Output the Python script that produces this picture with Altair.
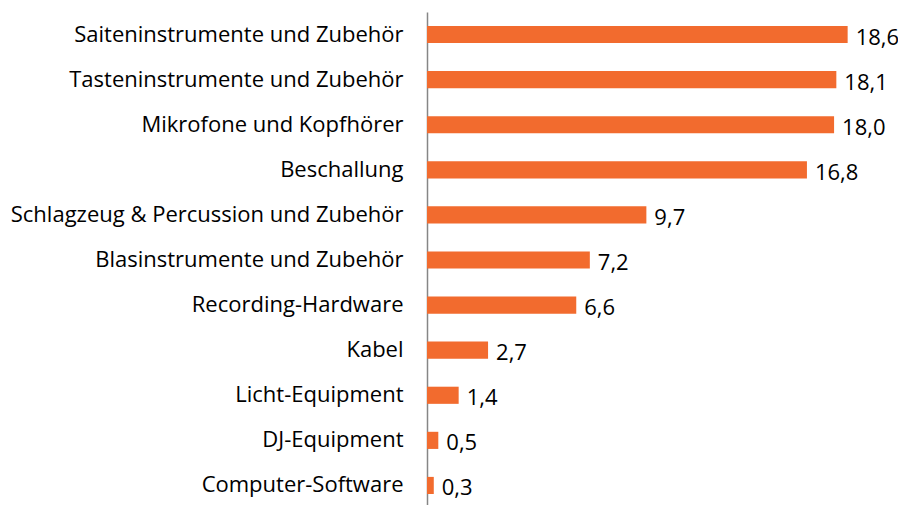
import altair as alt
import pandas as pd

categories = [
    "Saiteninstrumente und Zubehör",
    "Tasteninstrumente und Zubehör",
    "Mikrofone und Kopfhörer",
    "Beschallung",
    "Schlagzeug & Percussion und Zubehör",
    "Blasinstrumente und Zubehör",
    "Recording-Hardware",
    "Kabel",
    "Licht-Equipment",
    "DJ-Equipment",
    "Computer-Software",
]
values = [18.6, 18.1, 18.0, 16.8, 9.7, 7.2, 6.6, 2.7, 1.4, 0.5, 0.3]
value_labels = ["18,6", "18,1", "18,0", "16,8", "9,7", "7,2", "6,6", "2,7", "1,4", "0,5", "0,3"]

df = pd.DataFrame({"cat": categories, "val": values, "lbl": value_labels})

FONT = "Open Sans"

y = alt.Y(
    "cat:N",
    sort=categories,
    title=None,
    scale=alt.Scale(paddingInner=0.62, paddingOuter=0.31),
    axis=alt.Axis(
        labelFont=FONT,
        labelFontSize=22,
        labelColor="#000000",
        labelPadding=24,
        ticks=False,
        domainColor="#868686",
        domainWidth=1.5,
        labelLimit=500,
    ),
)
x = alt.X(
    "val:Q",
    title=None,
    scale=alt.Scale(domain=[0, 19.5]),
    axis=None,
)

bars = alt.Chart(df).mark_bar(color="#F26B2E").encode(x=x, y=y)
text = alt.Chart(df).mark_text(
    align="left", baseline="middle", dx=8, dy=3, font=FONT, fontSize=22, color="#000000"
).encode(x=x, y=y, text="lbl:N")

chart = (
    alt.layer(bars, text)
    .properties(
        width=441,
        height=496,
        background="#ffffff",
        autosize=alt.AutoSizeParams(type="none"),
        padding={"left": 419, "top": 4, "right": 30, "bottom": 0},
    )
    .configure_view(stroke=None, strokeWidth=0)
)

chart.save("out.html", embed_options={"renderer": "svg", "actions": False})
